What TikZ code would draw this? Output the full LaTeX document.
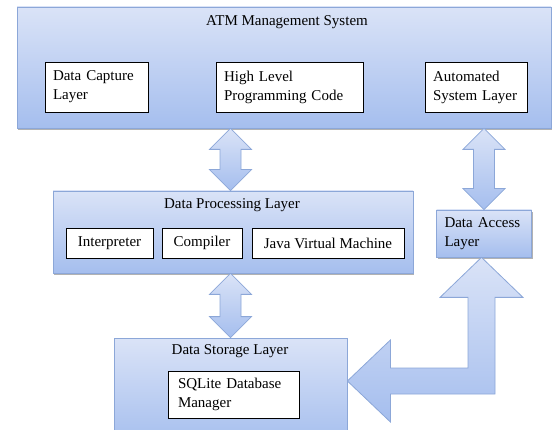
\documentclass[tikz,border=0pt]{standalone}
\usepackage{fontspec}
\setmainfont{Liberation Serif}
\usetikzlibrary{calc,shadows}

\definecolor{layertop}{HTML}{DAE3F7}
\definecolor{layerbot}{HTML}{A5BEEE}
\definecolor{layerline}{HTML}{8CA7D8}

\tikzset{
  layer/.style={draw=layerline, line width=0.8pt, top color=layertop, bottom color=layerbot,
    font=\fontsize{15}{19}\selectfont,
    drop shadow={shadow xshift=1pt, shadow yshift=-2pt, opacity=0.3, fill=black}},
  layertitle/.style={inner sep=0pt, font=\fontsize{15}{19}\selectfont},
  notebox/.style={draw=black, fill=white, line width=0.7pt, align=left, inner xsep=8pt,
    minimum height=50pt, font=\fontsize{15}{19}\selectfont},
  toolbox/.style={draw=black, fill=white, line width=0.7pt, minimum height=30pt,
    font=\fontsize{15}{19}\selectfont},
  blockarrow/.style={draw=layerline, line width=0.8pt, top color=layertop, bottom color=layerbot}
}

% two headed block arrow, top point #1, bottom point #2
\newcommand\twoway[2]{%
  \path[blockarrow] let \p1=(#1), \p2=(#2) in
    (\p1) -- ++(21,-21) -- ++(-10.5,0) -- (\x1+10.5pt,\y2+21pt) -- ++(10.5,0)
    -- (\p2) -- ++(-21,21) -- ++(10.5,0) -- (\x1-10.5pt,\y1-21pt) -- ++(-10.5,0) -- cycle;}

\begin{document}
\begin{tikzpicture}[x=1pt,y=1pt]
  \useasboundingbox (0,0) rectangle (552,429);
  % top layer
  \node[layer, minimum width=534pt, minimum height=121pt] (atm) at (284,361.5) {};
  \node[layertitle] (atmtitle) at (287,407) {ATM Management System};
  \node[notebox, text width=87pt] (capture) at (96.5,342) {Data Capture\\Layer};
  \node[notebox, text width=131pt] (hlcode) at (289.5,342) {High Level\\Programming Code};
  \node[notebox, text width=86pt] (autosys) at (476,342) {Automated\\System Layer};

  % processing layer
  \node[layer, minimum width=360pt, minimum height=82pt] (dpl) at (233,197) {};
  \node[layertitle] (dpltitle) at (232,224) {Data Processing Layer};
  \node[toolbox, minimum width=87pt] (interp) at (109.5,186) {Interpreter};
  \node[toolbox, minimum width=80pt] (compiler) at (202,186) {Compiler};
  \node[toolbox, minimum width=152pt] (jvm) at (328,186) {Java Virtual Machine};

  % access layer
  \node[layer, text width=79pt, minimum height=47pt, align=left, inner xsep=8pt] (dal) at (484,195.5) {Data Access\\Layer};

  % storage layer
  \node[layer, minimum width=233pt, minimum height=107pt] (dsl) at (230.5,37.5) {};
  \node[layertitle] (dsltitle) at (230,78) {Data Storage Layer};
  \node[notebox, text width=111pt, inner xsep=10pt, minimum height=47pt] (sqlite) at (233.5,34.5) {SQLite Database\\Manager};

  % block arrows
  \twoway{atm.south -| dsl.north}{dpl.north -| dsl.north}
  \twoway{dpl.south -| dsl.north}{dsl.north}
  \twoway{atm.south -| dal.north}{dal.north}

  \coordinate (elbow) at (481.5,48);
  \path[blockarrow] let \p1=(dal.south -| elbow), \p2=(elbow), \p3=(dsl.east |- elbow) in
    (\p1) -- ++(41.5,-40) -- (\x2+13.5pt,\y1-40pt) -- (\x2+13.5pt,\y2-13pt)
    -- (\x3+43pt,\y2-13pt) -- ++(0,-28) -- (\p3) -- (\x3+43pt,\y2+41pt) -- ++(0,-28)
    -- (\x2-13.5pt,\y2+13pt) -- (\x2-13.5pt,\y1-40pt) -- ++(-28,0) -- cycle;
\end{tikzpicture}
\end{document}
